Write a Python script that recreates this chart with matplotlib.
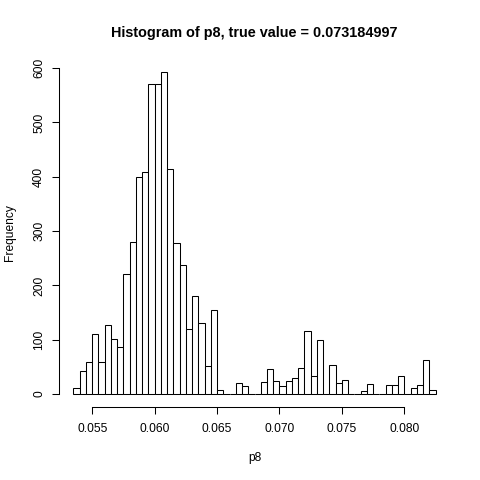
import numpy as np
import matplotlib
matplotlib.use("Agg")
import matplotlib.pyplot as plt

plt.rcParams['font.family'] = ['Liberation Sans', 'DejaVu Sans']

bin_start = 0.0535
bin_width = 0.0005
counts = [12, 42, 60, 110, 60, 127, 101, 86, 221, 280,
          399, 409, 570, 570, 593, 415, 279, 238, 120, 180,
          130, 51, 155, 8, 0, 0, 20, 15, 0, 1,
          23, 47, 25, 15, 25, 30, 48, 116, 34, 100,
          0, 54, 20, 26, 0, 0, 6, 18, 0, 0,
          16, 16, 33, 1, 12, 16, 62, 8]
xticks = [0.055, 0.060, 0.065, 0.070, 0.075, 0.080]
xticklabels = ["0.055", "0.060", "0.065", "0.070", "0.075", "0.080"]
yticks = [0, 100, 200, 300, 400, 500, 600]

lefts = bin_start + bin_width * np.arange(len(counts))

fig = plt.figure(figsize=(4.8, 4.8), dpi=100)
ax = fig.add_axes([59/480, 73/480, 391/480, 348/480])
ax.bar(lefts, counts, width=bin_width, align='edge', facecolor='white',
       edgecolor='black', linewidth=0.75)

xmin, xmax = lefts[0], lefts[-1] + bin_width
dx = (xmax - xmin) * 0.04
ax.set_xlim(xmin - dx, xmax + dx)
ymax = max(counts)
ax.set_ylim(-ymax * 0.04, ymax * 1.04)

for s in ['top', 'right']:
    ax.spines[s].set_visible(False)
ax.spines['left'].set_bounds(0, 600)
ax.spines['bottom'].set_bounds(xticks[0], xticks[-1])
for s in ['left', 'bottom']:
    ax.spines[s].set_linewidth(0.75)

ax.set_xticks(xticks)
ax.set_xticklabels(xticklabels)
ax.set_yticks(yticks)
ax.set_yticklabels([str(v) for v in yticks], rotation=90, va='center')
ax.tick_params(axis='both', length=5.2, width=0.75, labelsize=8.64)
ax.tick_params(axis='x', pad=6.5)
ax.tick_params(axis='y', pad=4.8)

ax.set_xlabel("p8", fontsize=8.64, labelpad=12)
ax.set_ylabel("Frequency", fontsize=8.64, labelpad=12)
ax.set_title("Histogram of p8, true value = 0.073184997", fontsize=10.37,
             fontweight='bold', pad=16)

fig.savefig("out.png", dpi=100)
